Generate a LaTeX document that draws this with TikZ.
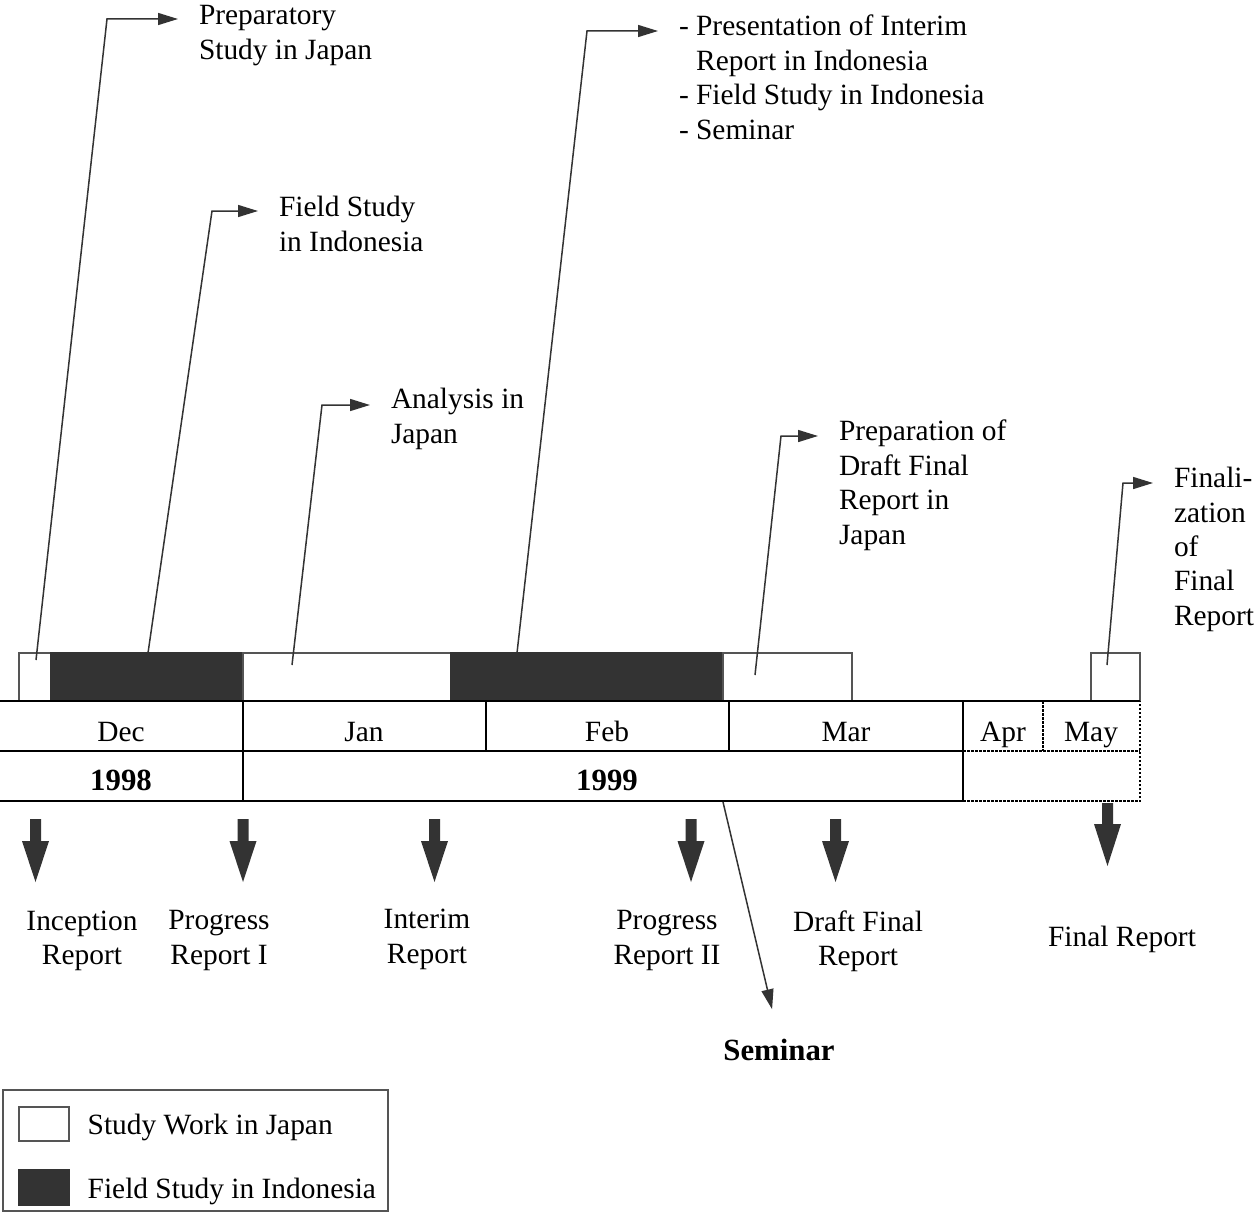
\documentclass[tikz,border=0pt]{standalone}
\usepackage{fontspec}
\setmainfont{Liberation Serif}
\usetikzlibrary{arrows.meta,positioning}
\definecolor{darkfill}{HTML}{333333}
\definecolor{edgegray}{HTML}{555555}
\tikzset{
    japan/.style={rectangle,draw=edgegray,line width=1.5pt,fill=white,anchor=south west,minimum height=48pt,inner sep=0pt,outer sep=0pt},
    indonesia/.style={japan,draw=darkfill,fill=darkfill},
    callout/.style={draw=darkfill,line width=1.5pt,-{Triangle[length=20pt,width=12pt]}},
    note/.style={align=left,inner sep=0pt,outer xsep=21pt,anchor=north west},
    report/.style={align=center,inner sep=0pt,anchor=north},
    grid/.style={line width=2.5pt},
    griddot/.style={line width=2.5pt,dash pattern=on 2.5pt off 1.5pt},
    key/.style={rectangle,draw=edgegray,line width=1.5pt,minimum width=50pt,minimum height=34pt,inner sep=0pt,anchor=north west},
    keytext/.style={inner sep=0pt,text height=22pt,text depth=0pt,right=18pt of #1},
    boldtext/.style={anchor=base,inner sep=0pt,font=\fontsize{30.8pt}{36pt}\selectfont\bfseries},
}
\begin{document}
\begin{tikzpicture}[x=1pt,y=-1pt,font=\fontsize{29.4pt}{34.4pt}\selectfont]
    \useasboundingbox (0,0) rectangle (1255,1220);

    \path
    (19,701)node[japan,minimum width=32pt](jp1){}
    (jp1.south east)node[indonesia,minimum width=192pt](id1){}
    (id1.south east)node[japan,minimum width=208pt](jp2){}
    (jp2.south east)node[indonesia,minimum width=272pt](id2){}
    (id2.south east)node[japan,minimum width=129pt](jp3){}
    (1091,701)node[japan,minimum width=49pt](jp4){};

    \draw[grid] (0,701) -- (1140,701) (0,751) -- (963,751) (0,801) -- (963,801)
        (243,701) -- (243,801) (486,701) -- (486,751) (729,701) -- (729,751) (963,701) -- (963,801);
    \draw[griddot] (963,751) -- (1140,751) (963,801) -- (1140,801) -- (1140,701) (1043,701) -- (1043,751);

    \foreach \mon/\x in {Dec/121,Jan/364,Feb/607,Mar/846,Apr/1003,May/1091}
        \node[anchor=base] (\mon) at (\x,741) {\mon};
    \node[boldtext] (y1998) at (121,790) {1998};
    \node[boldtext] (y1999) at (607,790) {1999};

    \coordinate (s1) at (36,660);
    \coordinate (c1) at (107,19);
    \node[note] (prep) at (178,5.5) {Preparatory\\Study in Japan};
    \draw[callout] (s1) -- (c1) -- (c1 -| prep.west);

    \coordinate (s2) at (148,653);
    \coordinate (c2) at (212,211);
    \node[note] (field) at (258,196) {Field Study\\in Indonesia};
    \draw[callout] (s2) -- (c2) -- (c2 -| field.west);

    \coordinate (s3) at (292,665);
    \coordinate (c3) at (322,405);
    \node[note] (analysis) at (370,388) {Analysis in\\Japan};
    \draw[callout] (s3) -- (c3) -- (c3 -| analysis.west);

    \coordinate (s4) at (517,653);
    \coordinate (c4) at (587,31);
    \node[note] (interim) at (658,15) {- Presentation of Interim\\\hphantom{- }Report in Indonesia\\- Field Study in Indonesia\\- Seminar};
    \draw[callout] (s4) -- (c4) -- (c4 -| interim.west);

    \coordinate (s5) at (755,675);
    \coordinate (c5) at (781,436);
    \node[note] (draft) at (818,420) {Preparation of\\Draft Final\\Report in\\Japan};
    \draw[callout] (s5) -- (c5) -- (c5 -| draft.west);

    \coordinate (s6) at (1107,665);
    \coordinate (c6) at (1123,483);
    \node[note] (final) at (1153,467) {Finali-\\zation\\of\\Final\\Report};
    \draw[callout] (s6) -- (c6) -- (c6 -| final.west);

    \foreach \x/\ya/\yb/\yc in {35.5/819/841/882,243/819/841/882,434.5/819/841/882,691/819/841/882,835.5/819/841/882,1107.5/803/824/866}
        \fill[darkfill] (\x-5.5,\ya) -- (\x+5.5,\ya) -- (\x+5.5,\yb) -- (\x+13.5,\yb) -- (\x,\yc) -- (\x-13.5,\yb) -- (\x-5.5,\yb) -- cycle;

    \node[report] (inceptionrep) at (82,910.5) {Inception\\Report};
    \node[report] (progressrep1) at (219,910.5) {Progress\\Report I};
    \node[report] (interimrep) at (427,909) {Interim\\Report};
    \node[report] (progressrep2) at (667,910.5) {Progress\\Report II};
    \node[report] (draftrep) at (858,910.5) {Draft Final\\Report};
    \node[anchor=base] (finalrep) at (1122,946) {Final Report};

    \node[boldtext] (seminar) at (779,1060) {Seminar};
    \coordinate (semfrom) at (723,802);
    \draw[callout,shorten >=30pt] (semfrom) -- (seminar.north);

    \draw[draw=edgegray,line width=2pt] (3,1090) rectangle (388,1211);
    \node[key,fill=white] (keyjp) at (18,1106) {};
    \node[key,fill=darkfill,draw=darkfill,minimum height=35pt] (keyid) at (18,1169) {};
    \node[keytext=keyjp] (txtjp) {Study Work in Japan};
    \node[keytext=keyid] (txtid) {Field Study in Indonesia};
\end{tikzpicture}
\end{document}
